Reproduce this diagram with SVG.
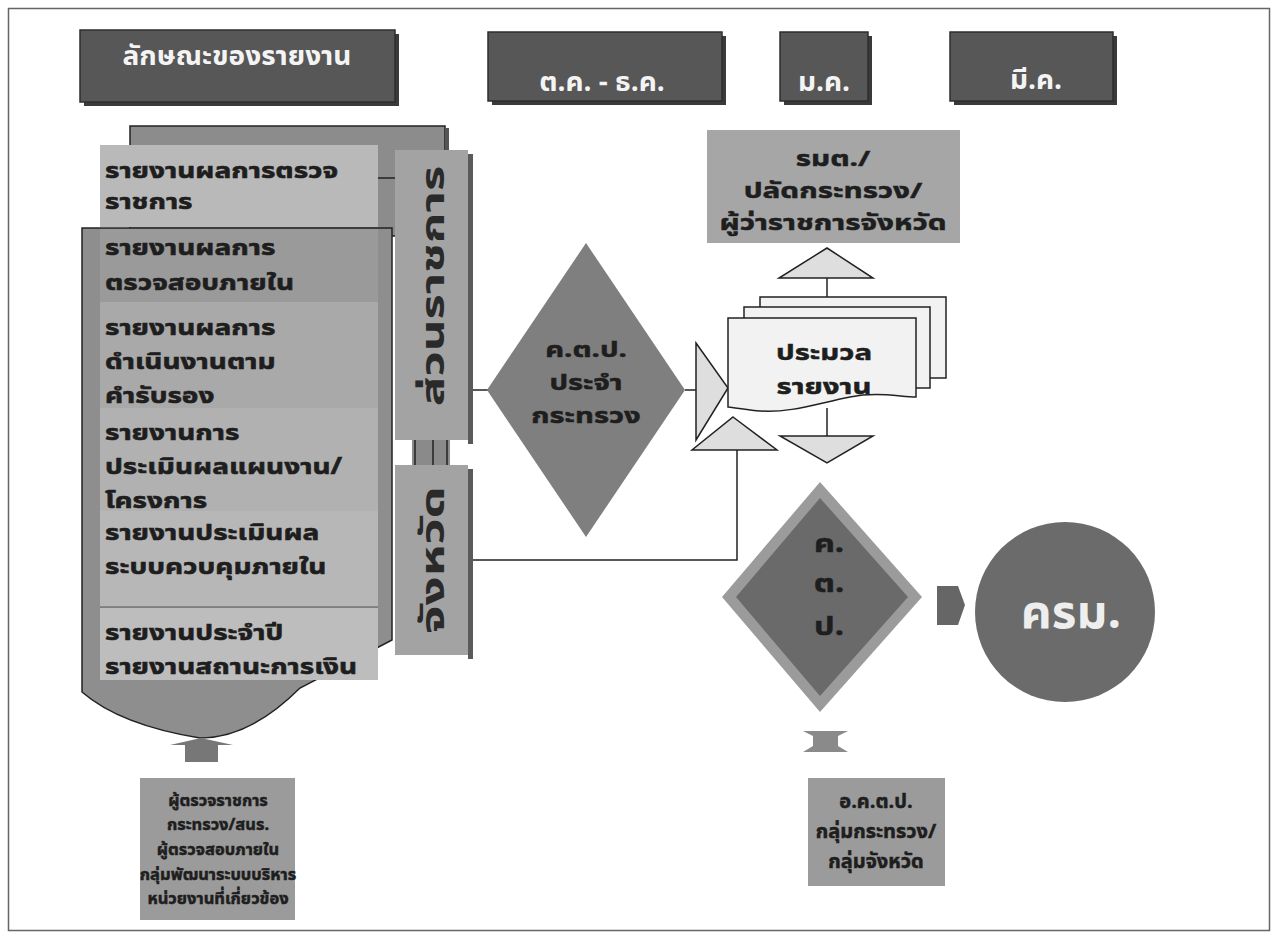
<svg xmlns="http://www.w3.org/2000/svg" width="1279" height="941" viewBox="0 0 1279 941">
<defs>
<style>
text{font-family:"Noto Sans Thai UI","Noto Sans Thai","Noto Sans","DejaVu Sans","Liberation Sans",sans-serif;font-weight:bold}
.hdr{fill:#575757;stroke:#2e2e2e;stroke-width:1.5}
.hsh{fill:#3a3a3a}
.ht{fill:#f4f4f4;font-size:28px;text-anchor:middle}
.ct{fill:#1e1e1e;font-size:23px;stroke:#1e1e1e;stroke-width:0.6}
.cc{fill:#1e1e1e;text-anchor:middle;stroke:#1e1e1e;stroke-width:0.5}
.ln{fill:none;stroke:#222;stroke-width:1.5}
.tri{fill:#dedede;stroke:#222;stroke-width:1.5}
.doc{fill:#f2f2f2;stroke:#222;stroke-width:1.5}
.side{fill:#a3a3a3}
.sdsh{fill:#5a5a5a}
.vt{fill:#2a2a2a;font-size:34px;text-anchor:middle}
</style>
</defs>
<rect x="0" y="0" width="1279" height="941" fill="#ffffff"/>
<rect x="8.5" y="8.5" width="1261" height="922" fill="none" stroke="#666" stroke-width="1.5"/>

<g id="connectors">
<line class="ln" x1="468" y1="390" x2="488" y2="390"/>
<line class="ln" x1="685" y1="390" x2="697" y2="390"/>
<polyline class="ln" points="468,560 737,560 737,450"/>
<line class="ln" x1="827" y1="278" x2="827" y2="297"/>
<line class="ln" x1="827" y1="408" x2="827" y2="436"/>
</g>

<g id="header-characteristics">
<rect class="hsh" x="84" y="34" width="315" height="72"/>
<rect class="hdr" x="80" y="30" width="315" height="72"/>
<text class="ht" x="237" y="65">ลักษณะของรายงาน</text>
</g>
<g id="header-oct-dec">
<rect class="hsh" x="492" y="36" width="234" height="69"/>
<rect class="hdr" x="488" y="32" width="234" height="69"/>
<text class="ht" x="602" y="91">ต.ค. - ธ.ค.</text>
</g>
<g id="header-jan">
<rect class="hsh" x="784" y="36" width="88" height="69"/>
<rect class="hdr" x="780" y="32" width="88" height="69"/>
<text class="ht" x="824" y="91">ม.ค.</text>
</g>
<g id="header-mar">
<rect class="hsh" x="954" y="36" width="163" height="69"/>
<rect class="hdr" x="950" y="32" width="163" height="69"/>
<text class="ht" x="1036" y="89">มี.ค.</text>
</g>

<g id="report-stack">
<rect x="130" y="126" width="315" height="110" fill="#8c8c8c" stroke="#222" stroke-width="1.5"/>
<rect x="445" y="128" width="4" height="108" fill="#555"/>
<path d="M82,228 H392 V640 L300,688 Q250,738 200,738 Q120,725 82,692 Z" fill="#8e8e8e" stroke="#222" stroke-width="1.5"/>
<rect x="100" y="145" width="278" height="82" fill="#b9b9b9"/>
<rect x="100" y="229" width="278" height="73" fill="#9a9a9a"/>
<rect x="100" y="302" width="278" height="106" fill="#a9a9a9"/>
<rect x="100" y="408" width="278" height="103" fill="#b1b1b1"/>
<rect x="100" y="511" width="278" height="96" fill="#b7b7b7"/>
<line x1="100" y1="607" x2="378" y2="607" stroke="#777" stroke-width="1.5"/>
<rect x="100" y="608" width="278" height="72" fill="#bdbdbd"/>
<line x1="378" y1="178" x2="395" y2="178" stroke="#222" stroke-width="1.5"/>
<text class="ct" transform="translate(105,178) scale(1.22,1)">รายงานผลการตรวจ</text>
<text class="ct" transform="translate(105,209) scale(1.22,1)">ราชการ</text>
<text class="ct" transform="translate(105,255) scale(1.22,1)">รายงานผลการ</text>
<text class="ct" transform="translate(105,290) scale(1.22,1)">ตรวจสอบภายใน</text>
<text class="ct" transform="translate(105,335) scale(1.22,1)">รายงานผลการ</text>
<text class="ct" transform="translate(105,369) scale(1.22,1)">ดำเนินงานตาม</text>
<text class="ct" transform="translate(105,403) scale(1.22,1)">คำรับรอง</text>
<text class="ct" transform="translate(105,440) scale(1.22,1)">รายงานการ</text>
<text class="ct" transform="translate(105,474) scale(1.22,1)">ประเมินผลแผนงาน/</text>
<text class="ct" transform="translate(105,508) scale(1.22,1)">โครงการ</text>
<text class="ct" transform="translate(105,540) scale(1.22,1)">รายงานประเมินผล</text>
<text class="ct" transform="translate(105,574) scale(1.22,1)">ระบบควบคุมภายใน</text>
<text class="ct" transform="translate(105,640) scale(1.22,1)">รายงานประจำปี</text>
<text class="ct" transform="translate(105,674) scale(1.22,1)">รายงานสถานะการเงิน</text>
</g>

<g id="side-agency">
<rect class="sdsh" x="468" y="154" width="5" height="290"/>
<rect class="side" x="395" y="150" width="73" height="290"/>
<text class="vt" transform="translate(444,286) rotate(-90) scale(1.45,1)">ส่วนราชการ</text>
</g>
<g id="side-link">
<rect x="412" y="440" width="38" height="25" fill="#8a8a8a"/>
<line x1="415" y1="440" x2="415" y2="465" stroke="#222" stroke-width="1.5"/>
<line x1="433" y1="440" x2="433" y2="465" stroke="#222" stroke-width="1.5"/>
<line x1="447" y1="440" x2="447" y2="465" stroke="#222" stroke-width="1.5"/>
</g>
<g id="side-province">
<rect class="sdsh" x="468" y="469" width="5" height="190"/>
<rect class="side" x="395" y="465" width="73" height="190"/>
<text class="vt" transform="translate(444,560) rotate(-90) scale(1.5,1)">จังหวัด</text>
</g>

<g id="ministry-committee">
<polygon points="586,243 685,390 586,537 487,390" fill="#7f7f7f"/>
<text class="cc" font-size="22" transform="translate(586,357) scale(1.33,1)">ค.ต.ป.</text>
<text class="cc" font-size="22" transform="translate(586,390) scale(1.33,1)">ประจำ</text>
<text class="cc" font-size="22" transform="translate(586,423) scale(1.33,1)">กระทรวง</text>
</g>

<g id="arrow-right">
<polygon class="tri" points="696,343 728,388 696,440"/>
</g>
<g id="arrow-up-left">
<polygon class="tri" points="733,417 777,450 692,450"/>
</g>

<g id="compile-reports">
<rect class="doc" x="760" y="297" width="186" height="81"/>
<rect class="doc" x="744" y="307" width="186" height="81"/>
<path class="doc" d="M728,318 H916 V397 C895,396 875,392 850,397 C815,404 790,413 760,411 C748,410 738,408 728,407 Z"/>
<text class="cc" font-size="23" transform="translate(824,360) scale(1.28,1)">ประมวล</text>
<text class="cc" font-size="23" transform="translate(824,394) scale(1.28,1)">รายงาน</text>
</g>

<g id="arrow-up-top">
<polygon class="tri" points="827,248 873,278 779,278"/>
</g>
<g id="arrow-down">
<polygon class="tri" points="780,436 873,436 827,463"/>
</g>

<g id="ministers">
<rect x="707" y="130" width="253" height="113" fill="#a6a6a6"/>
<text class="cc" font-size="22" transform="translate(833,166) scale(1.35,1)">รมต./</text>
<text class="cc" font-size="22" transform="translate(833,198) scale(1.35,1)">ปลัดกระทรวง/</text>
<text class="cc" font-size="22" transform="translate(833,230) scale(1.35,1)">ผู้ว่าราชการจังหวัด</text>
</g>

<g id="national-committee">
<polygon points="820,482 922,597 820,712 722,597" fill="#9b9b9b"/>
<polygon points="820,498 908,597 820,696 736,597" fill="#6a6a6a"/>
<text class="cc" font-size="27" transform="translate(829,552) scale(1.2,1)">ค.</text>
<text class="cc" font-size="27" transform="translate(829,592) scale(1.2,1)">ต.</text>
<text class="cc" font-size="27" transform="translate(829,635) scale(1.2,1)">ป.</text>
</g>

<g id="arrow-block">
<polygon points="937,586 958,586 965,605 958,625 937,625" fill="#666"/>
</g>

<g id="cabinet">
<circle cx="1065" cy="612" r="90" fill="#6b6b6b"/>
<text font-size="48" x="1071" y="628" text-anchor="middle" fill="#eeeeee">ครม.</text>
</g>

<g id="arrow-up-bottom">
<polygon points="170,745 201,738 233,745 218,745 218,762 185,762 185,745" fill="#777"/>
</g>

<g id="inspectors">
<rect x="140" y="778" width="155" height="142" fill="#9b9b9b"/>
<text class="cc" font-size="16.5" x="218" y="806">ผู้ตรวจราชการ</text>
<text class="cc" font-size="16.5" x="218" y="830">กระทรวง/สนร.</text>
<text class="cc" font-size="16.5" x="218" y="855">ผู้ตรวจสอบภายใน</text>
<text class="cc" font-size="16.5" x="218" y="880">กลุ่มพัฒนาระบบบริหาร</text>
<text class="cc" font-size="16.5" x="218" y="904">หน่วยงานที่เกี่ยวข้อง</text>
</g>

<g id="arrow-updown">
<polygon points="803,731 848,731 838,736 838,746 848,752 803,752 813,746 813,736" fill="#8a8a8a"/>
</g>

<g id="sub-committee">
<rect x="808" y="778" width="137" height="108" fill="#9b9b9b"/>
<text class="cc" font-size="20" x="876" y="808">อ.ค.ต.ป.</text>
<text class="cc" font-size="20" x="876" y="838">กลุ่มกระทรวง/</text>
<text class="cc" font-size="20" x="876" y="868">กลุ่มจังหวัด</text>
</g>
</svg>
